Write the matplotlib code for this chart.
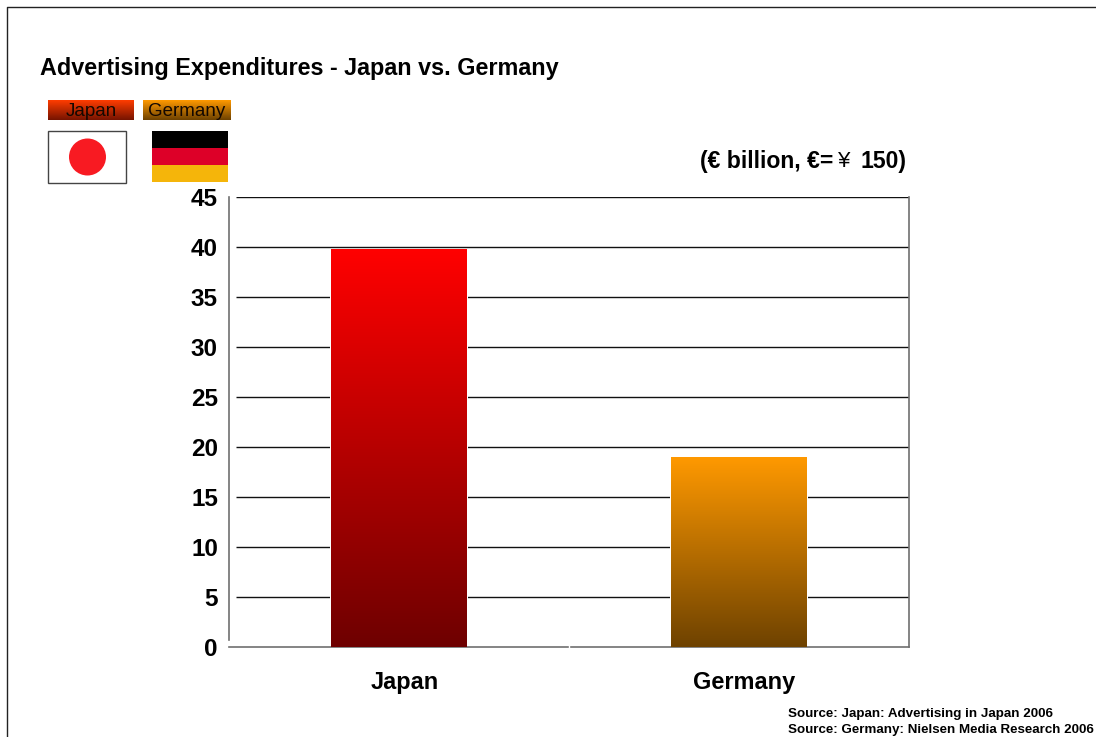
import numpy as np
import matplotlib
matplotlib.use("Agg")
import matplotlib.pyplot as plt
from matplotlib.colors import LinearSegmentedColormap
from matplotlib.patches import Rectangle, Circle

plt.rcParams['font.family'] = ['Liberation Sans', 'DejaVu Sans']
plt.rcParams['font.weight'] = 'bold'

W, H = 1096, 737

# data
countries = ["Japan", "Germany"]
spending = [39.8, 19.0]
y_ticks = [0, 5, 10, 15, 20, 25, 30, 35, 40, 45]

bar_tops = ["#ff0000", "#ff9900"]
bar_bottoms = ["#6e0000", "#6e4200"]
swatch_tops = ["#ff3c00", "#ff9900"]
swatch_bottoms = ["#761400", "#6e4200"]
spine_grey = "#707070"


def px_axes(fig, x0, y0, x1, y1):
    # axes placed by pixel box, y measured from the top
    return fig.add_axes([x0 / W, 1 - y1 / H, (x1 - x0) / W, (y1 - y0) / H])


def gradient(top, bottom):
    return LinearSegmentedColormap.from_list("g", [bottom, top])


fig = plt.figure(figsize=(W / 100, H / 100), dpi=100, facecolor="white")

# page-wide layer for the frame, texts and flags (pixel coordinates)
page = fig.add_axes([0, 0, 1, 1], zorder=0)
page.set_xlim(0, W)
page.set_ylim(H, 0)
page.axis("off")
page.plot([7, 7, W], [H, 7, 7], color="#222222", lw=1.0)

page.text(40, 68.5, "Advertising Expenditures - Japan vs. Germany",
          fontsize=16.85, va="center", ha="left", color="black")

page.text(833, 161.5, "(€ billion, €=", fontsize=16.6, va="center", ha="right")
page.text(844.5, 161.5, "¥", fontsize=16, va="center", ha="center", fontweight="normal")
page.text(906, 161.5, "150)", fontsize=16.6, va="center", ha="right")

page.text(788, 713.5, "Source: Japan: Advertising in Japan 2006", fontsize=9.6, va="center")
page.text(788, 729.5, "Source: Germany: Nielsen Media Research 2006", fontsize=9.6, va="center")

# flags
page.add_patch(Rectangle((48, 131), 78, 52, fc="white", ec="#444444", lw=1.0))
page.add_patch(Circle((87.5, 157), 18.5, fc="#f81a22", ec="none"))
page.add_patch(Rectangle((152, 131), 76, 17, fc="black", ec="none"))
page.add_patch(Rectangle((152, 148), 76, 17, fc="#dd0028", ec="none"))
page.add_patch(Rectangle((152, 165), 76, 17, fc="#f5b50a", ec="none"))

# legend swatches
legend_boxes = [(48, 100, 134, 120), (143, 100, 231, 120)]
for name, box, top, bottom in zip(countries, legend_boxes, swatch_tops, swatch_bottoms):
    sw = px_axes(fig, *box)
    sw.imshow(np.linspace(1, 0, 64)[:, None], aspect="auto", cmap=gradient(top, bottom),
              vmin=0, vmax=1, extent=[0, 1, 0, 1])
    sw.axis("off")
    sw.text(0.5, 0.45, name, transform=sw.transAxes, ha="center", va="center",
            fontsize=13.5, fontweight="normal", color="#140800")

# main chart
ax = px_axes(fig, 229, 197, 909, 647)
ax.set_facecolor("none")
ax.set_xlim(-0.5, 1.5)
ax.set_ylim(0, 45)

ax.hlines(y_ticks[1:], 7 / 680, 1, transform=ax.get_yaxis_transform(),
          color="#111111", lw=1.0, zorder=1)

x = np.arange(len(countries))
bars = ax.bar(x, spending, width=0.4, color="none", edgecolor="none", zorder=2)
for b, top, bottom in zip(bars, bar_tops, bar_bottoms):
    # white sliver around each bar breaks the gridlines
    ax.add_patch(Rectangle((b.get_x() - 0.004, 0), b.get_width() + 0.008, b.get_height(),
                           fc="white", ec="none", zorder=2))
    ax.imshow(np.linspace(1, 0, 256)[:, None], aspect="auto", cmap=gradient(top, bottom),
              vmin=0, vmax=1, zorder=3,
              extent=[b.get_x(), b.get_x() + b.get_width(), 0, b.get_height()])
ax.set_xlim(-0.5, 1.5)
ax.set_ylim(0, 45)

ax.spines["top"].set_visible(False)
for s in ["left", "right", "bottom"]:
    ax.spines[s].set_color(spine_grey)
    ax.spines[s].set_linewidth(1.2)
ax.spines["left"].set_bounds(0.7, 45)

ax.set_xticks([])
ax.set_yticks(y_ticks)
ax.tick_params(axis="y", length=0, pad=8)
for lab in ax.get_yticklabels():
    lab.set_fontsize(17.5)

for i, name in enumerate(countries):
    ax.annotate(name, (i, 0), xytext=(4, -17), textcoords="offset points",
                ha="center", va="top", fontsize=16.9, annotation_clip=False)

# small break in the baseline between the two categories
ax.vlines([0.5], -0.2, 0.2, color="white", lw=1.0, zorder=5, clip_on=False)

fig.savefig("out.png", dpi=100)
